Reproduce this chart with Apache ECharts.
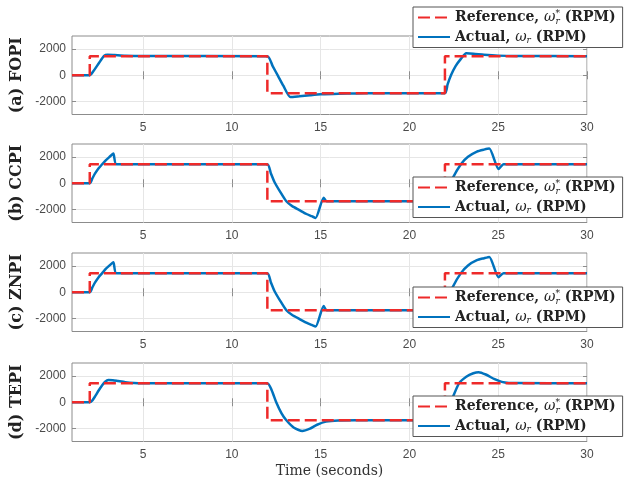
<!DOCTYPE html>
<html>
<head>
<meta charset="utf-8">
<script src="https://cdn.jsdelivr.net/npm/echarts@6/dist/echarts.min.js"></script>
<style>
html,body{margin:0;padding:0;background:#fff;}
#c{width:638px;height:484px;}
</style>
</head>
<body>
<div id="c"></div>
<script>
// ---- data ----
const xTicks = [5, 10, 15, 20, 25, 30];
const yTicks = [-2000, 0, 2000];
const subplotNames = ['(a) FOPI', '(b) CCPI', '(c) ZNPI', '(d) TEPI'];

const refT = [1, 2, 2, 12, 12, 22, 22, 30];
const refV = [0, 0, 1460, 1460, -1380, -1380, 1460, 1460];

const fopiT = [1, 2, 2.2, 2.4, 2.6, 2.8, 3.0, 3.4, 4, 5, 12, 12.3, 12.6, 12.9, 13.3, 13.8, 14.4, 15, 16, 17, 18, 22, 22.15, 22.34, 22.6, 22.9, 23.2, 23.6, 24.2, 25, 26, 30];
const fopiV = [0, 0, 300, 700, 1100, 1480, 1570, 1540, 1490, 1465, 1460, 700, -50, -800, -1670, -1610, -1530, -1460, -1410, -1390, -1380, -1380, -700, 0, 700, 1250, 1680, 1650, 1570, 1500, 1470, 1460];

const ccpiT = [1, 2, 2.15, 2.3, 2.5, 2.7, 2.9, 3.1, 3.33, 3.5, 12, 12.2, 12.4, 12.7, 13.07, 13.4, 13.8, 14.2, 14.5, 14.72, 15.17, 15.34, 22, 22.2, 22.44, 22.9, 23.3, 23.8, 24.2, 24.5, 25.02, 25.3, 30];
const ccpiV = [0, 0, 380, 750, 1150, 1450, 1750, 2000, 2270, 1460, 1460, 750, 100, -600, -1380, -1750, -2050, -2350, -2520, -2650, -1100, -1380, -1380, -500, 400, 1460, 2020, 2420, 2570, 2650, 1080, 1460, 1460];

const znpiT = [1, 2, 2.15, 2.3, 2.5, 2.7, 2.9, 3.1, 3.33, 3.5, 12, 12.2, 12.4, 12.7, 13.07, 13.4, 13.8, 14.2, 14.5, 14.72, 15.17, 15.34, 22, 22.2, 22.44, 22.9, 23.3, 23.8, 24.2, 24.5, 25.02, 25.3, 30];
const znpiV = [0, 0, 380, 750, 1150, 1460, 1780, 2030, 2300, 1460, 1460, 750, 100, -600, -1380, -1740, -2040, -2330, -2500, -2620, -1050, -1380, -1380, -500, 400, 1460, 2050, 2450, 2600, 2700, 1150, 1460, 1460];

const tepiT = [1, 2, 2.15, 2.3, 2.5, 2.7, 2.85, 3.05, 3.3, 3.6, 4, 4.5, 5, 12, 12.25, 12.5, 12.8, 13.07, 13.5, 13.97, 14.4, 14.8, 15.3, 16, 17, 22, 22.2, 22.45, 22.8, 23.2, 23.6, 23.9, 24.3, 24.8, 25.2, 25.6, 26, 30];
const tepiV = [0, 0, 150, 450, 900, 1300, 1550, 1700, 1690, 1620, 1530, 1475, 1460, 1460, 900, 0, -850, -1380, -1950, -2200, -2020, -1720, -1480, -1390, -1380, -1380, -500, 400, 1460, 1950, 2220, 2300, 2120, 1760, 1560, 1475, 1462, 1460];

const actualT = [fopiT, ccpiT, znpiT, tepiT];
const actualV = [fopiV, ccpiV, znpiV, tepiV];

// ---- layout ----
const gridTops = [36, 144, 253, 363];
const legendTops = [7, 177, 287, 396];
const BLUE = '#0072BD';
const RED = '#ee2a2a';
const LABEL = '#4a4a4a';
const BOX = '#8c8c8c';

const zip = (t, v) => t.map((x, i) => [x, v[i]]);

const grids = [], xAxes = [], yAxes = [], series = [], legends = [];
for (let k = 0; k < 4; k++) {
  grids.push({ left: 72, top: gridTops[k], width: 515, height: 78.5, show: true,
    backgroundColor: '#fff', borderColor: BOX, borderWidth: 1 });
  xAxes.push({ type: 'value', gridIndex: k, min: 1, max: 30,
    name: k === 3 ? 'Time (seconds)' : '', nameLocation: 'middle', nameGap: 23,
    nameTextStyle: { fontFamily: 'DejaVu Serif', fontSize: 14, color: '#333' },
    axisLine: { show: false },
    axisTick: { inside: true, length: 4, customValues: xTicks, lineStyle: { color: BOX } },
    axisLabel: { customValues: xTicks, margin: 7, color: LABEL, fontSize: 12, fontFamily: 'Liberation Sans',
      formatter: v => String(v) },
    splitLine: { show: true, lineStyle: { color: '#e6e6e6', width: 1 } } });
  xAxes.push({ type: 'value', gridIndex: k, min: 1, max: 30, position: 'top',
    axisLine: { show: false },
    axisTick: { inside: true, length: 4, customValues: xTicks, lineStyle: { color: BOX } },
    axisLabel: { show: false }, splitLine: { show: false } });
  yAxes.push({ type: 'value', gridIndex: k, min: -3000, max: 3000,
    name: subplotNames[k], nameLocation: 'middle', nameGap: 44, nameRotate: 90,
    nameTextStyle: { fontFamily: 'DejaVu Serif', fontWeight: 'bold', fontSize: 16, color: '#222' },
    axisLine: { show: false },
    axisTick: { inside: true, length: 4, customValues: yTicks, lineStyle: { color: BOX } },
    axisLabel: { customValues: yTicks, margin: 6, color: LABEL, fontSize: 12, fontFamily: 'Liberation Sans',
      formatter: v => String(v) },
    splitLine: { show: true, lineStyle: { color: '#e6e6e6', width: 1 } } });
  yAxes.push({ type: 'value', gridIndex: k, min: -3000, max: 3000, position: 'right',
    axisLine: { show: false },
    axisTick: { inside: true, length: 4, customValues: yTicks, lineStyle: { color: BOX } },
    axisLabel: { show: false }, splitLine: { show: false } });

  series.push({ name: 'Actual', type: 'line', xAxisIndex: 2 * k, yAxisIndex: 2 * k,
    data: zip(actualT[k], actualV[k]), showSymbol: false, symbol: 'none', smooth: 0.2,
    lineStyle: { color: BLUE, width: 2.5 }, itemStyle: { color: BLUE }, z: 2, animation: false });
  series.push({ name: 'Reference', type: 'line', xAxisIndex: 2 * k, yAxisIndex: 2 * k,
    data: zip(refT, refV), showSymbol: false, symbol: 'none',
    lineStyle: { color: RED, width: 2.5, type: [12, 5] }, itemStyle: { color: RED }, z: 3, animation: false });

  legends.push({ data: ['Reference', 'Actual'], orient: 'vertical', left: 413, top: legendTops[k],
    padding: [2, 7, 2, 4], itemWidth: 32, itemHeight: 14, itemGap: 4,
    backgroundColor: '#fff', borderColor: '#555', borderWidth: 1, z: 10,
    selectedMode: false,
    itemStyle: { opacity: 0 },
    formatter: function (name) {
      return name === 'Reference'
        ? '{t|Reference, }{w|ω}{sp|*}{sb|r}{t| (RPM)}'
        : '{t|Actual, }{w|ω}{sb|r}{t| (RPM)}';
    },
    textStyle: { rich: {
      t: { fontFamily: 'DejaVu Serif', fontWeight: 'bold', fontSize: 14, color: '#222', lineHeight: 17 },
      w: { fontFamily: 'DejaVu Serif', fontStyle: 'italic', fontSize: 14, color: '#222', lineHeight: 17 },
      sp: { fontFamily: 'DejaVu Serif', fontSize: 9, color: '#222', verticalAlign: 'top', width: 0 },
      sb: { fontFamily: 'DejaVu Serif', fontStyle: 'italic', fontSize: 9, color: '#222', verticalAlign: 'bottom' }
    } } });
}

const chart = echarts.init(document.getElementById('c'), null, { renderer: 'canvas' });
chart.setOption({
  backgroundColor: '#fff',
  animation: false,
  grid: grids, xAxis: xAxes, yAxis: yAxes, series: series, legend: legends
});
</script>
</body>
</html>
